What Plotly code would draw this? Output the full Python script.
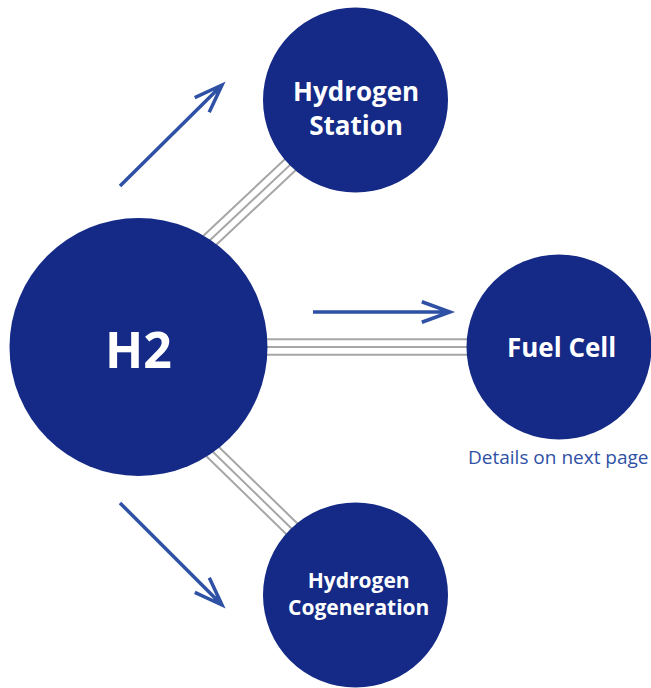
import numpy as np
import plotly.graph_objects as go

# ---- content ----
hub_label = "H2"
node_labels = ["Hydrogen<br>Station", "Fuel Cell", "Hydrogen<br>Cogeneration"]
note_text = "Details on next page"

# ---- layout geometry (pixel space) ----
W, H = 651, 688
hub_center = (138.5, 347)
hub_r = 129
node_centers = [(355.5, 100), (559, 347), (355.5, 595)]
node_r = 92.5
# centre line of each triple connector (start, end)
connectors = [((208, 242), (290, 165)), ((268, 347), (467, 347)), ((213, 452), (290, 527))]
arrows = [((120, 186), (222, 85)), ((313, 312), (450, 312)), ((120, 503), (222, 605))]

NAVY = "#142a86"
ARROW = "#2f51a5"
GRAY = "#a6a6a6"

shapes = []
for (a, b) in connectors:
    a = np.array(a, float); b = np.array(b, float)
    d = (b - a) / np.linalg.norm(b - a)
    n = np.array([-d[1], d[0]])
    a2, b2 = a - d * 25, b + d * 25
    for off in (-7.7, 0, 7.7):
        shapes.append(dict(type="line",
                           x0=a2[0] + n[0] * off, y0=a2[1] + n[1] * off,
                           x1=b2[0] + n[0] * off, y1=b2[1] + n[1] * off,
                           line=dict(color=GRAY, width=2)))
shapes.append(dict(type="circle", x0=hub_center[0] - hub_r, x1=hub_center[0] + hub_r,
                   y0=hub_center[1] - hub_r, y1=hub_center[1] + hub_r,
                   fillcolor=NAVY, line=dict(width=0)))
for (cx, cy) in node_centers:
    shapes.append(dict(type="circle", x0=cx - node_r, x1=cx + node_r,
                       y0=cy - node_r, y1=cy + node_r,
                       fillcolor=NAVY, line=dict(width=0)))
for (tail, tip) in arrows:
    t = np.array(tail, float); p = np.array(tip, float)
    d = (t - p) / np.linalg.norm(t - p)
    heads = []
    for ang in (np.radians(20), -np.radians(20)):
        R = np.array([[np.cos(ang), -np.sin(ang)], [np.sin(ang), np.cos(ang)]])
        heads.append(p + R @ d * 30)
    path = (f"M{t[0]},{t[1]} L{p[0]},{p[1]} "
            f"M{heads[0][0]},{heads[0][1]} L{p[0]},{p[1]} L{heads[1][0]},{heads[1][1]}")
    shapes.append(dict(type="path", path=path, line=dict(color=ARROW, width=3.5)))

FONT = "Open Sans"
annotations = [
    dict(x=hub_center[0], y=hub_center[1] + 2, text=f"<b>{hub_label}</b>",
         font=dict(family=FONT, size=50, color="white")),
    dict(x=node_centers[0][0], y=node_centers[0][1] + 8, text=f"<b>{node_labels[0]}</b>",
         font=dict(family=FONT, size=26, color="white")),
    dict(x=node_centers[1][0] + 2, y=node_centers[1][1], text=f"<b>{node_labels[1]}</b>",
         font=dict(family=FONT, size=26, color="white")),
    dict(x=node_centers[2][0] + 3, y=node_centers[2][1] - 2, text=f"<b>{node_labels[2]}</b>",
         font=dict(family=FONT, size=21, color="white")),
    dict(x=558, y=457, text=note_text,
         font=dict(family=FONT, size=19, color=ARROW)),
]
for a in annotations:
    a.update(showarrow=False, xref="x", yref="y", xanchor="center", yanchor="middle")

fig = go.Figure()
fig.update_layout(
    width=W, height=H, margin=dict(l=0, r=0, t=0, b=0),
    paper_bgcolor="white", plot_bgcolor="white",
    xaxis=dict(range=[0, W], visible=False, fixedrange=True),
    yaxis=dict(range=[H, 0], visible=False, fixedrange=True),
    shapes=shapes, annotations=annotations, showlegend=False,
)
fig.write_html("out.html", config={"displayModeBar": False, "staticPlot": True},
               post_script="document.body.style.margin='0';document.body.style.overflow='hidden';")
